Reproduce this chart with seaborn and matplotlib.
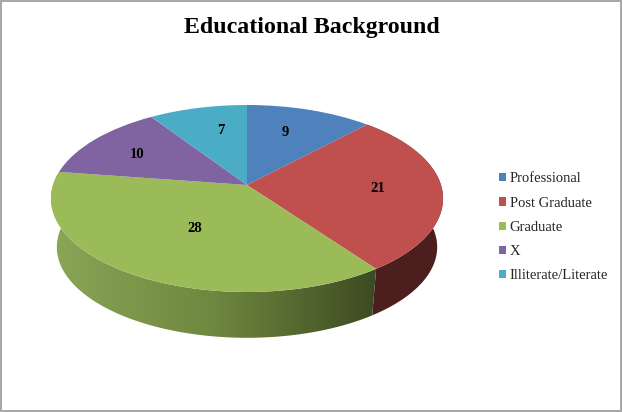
import matplotlib

matplotlib.use("Agg")
import matplotlib.pyplot as plt
import numpy as np
import seaborn as sns
from matplotlib.colors import LinearSegmentedColormap
from matplotlib.patches import Polygon, Rectangle
from matplotlib.transforms import Transform

categories = ["Professional", "Post Graduate", "Graduate", "X", "Illiterate/Literate"]
values = [9, 21, 28, 10, 7]
colors = ["#4F81BD", "#C0504D", "#9BBB59", "#8064A2", "#4BACC6"]

# how far out each number sits in its slice, and how far it is turned off centre
label_radius = [0.68, 0.67, 0.50, 0.70, 0.69]
label_turn = [3.2, 2, 1, 1, -4.6]

# pie tilt, all in pixels of the 623x412 picture
cx, cy = 247, 185
rx, ry, tilt = 194, 91.55, 0.1444
depth, shrink = 48, 0.97


def project(u, v, scale=1.0, drop=0):
    d = 1 + tilt * v
    return cx + scale * rx * u / d, cy + drop - scale * ry * v / d


class Tilted(Transform):
    input_dims = 2
    output_dims = 2

    def transform_non_affine(self, values):
        x, y = project(values[:, 0], values[:, 1])
        return np.column_stack([x, y])


sns.set_theme(style="white")
plt.rcParams["font.family"] = ["Liberation Serif", "DejaVu Serif"]

fig = plt.figure(figsize=(6.23, 4.12), dpi=100, facecolor="white")
ax = fig.add_axes([0, 0, 1, 1])

wedges, texts, autotexts = ax.pie(
    values,
    colors=sns.color_palette(colors),
    startangle=90,
    counterclock=False,
    autopct=lambda p: "%d" % round(p * sum(values) / 100),
    wedgeprops={"linewidth": 0},
)
ax.set_aspect("auto")

tilted = Tilted() + ax.transData
for w in wedges:
    w.set_transform(tilted)
    w.set_zorder(5)

for i, (w, t) in enumerate(zip(wedges, autotexts)):
    mid = np.radians((w.theta1 + w.theta2) / 2 + label_turn[i])
    t.set_position((label_radius[i] * np.cos(mid), label_radius[i] * np.sin(mid)))
    t.set_transform(tilted)
    t.set_fontsize(10.5)
    t.set_fontweight("bold")
    t.set_color("black")
    t.set_va("center_baseline")
    t.set_zorder(6)


def wall(w):
    th = np.radians(np.linspace(w.theta1, w.theta2, 120))
    u, v = np.cos(th), np.sin(th)
    x1, y1 = project(u, v)
    x2, y2 = project(u, v, shrink, depth + 1)
    return np.column_stack([np.r_[x1, x2[::-1]], np.r_[y1, y2[::-1]]])


# side of the pie: red is flat dark, green fades from left to right
ax.add_patch(Polygon(wall(wedges[1]), fc="#4C1F1E", ec="none", zorder=2))

green_side = LinearSegmentedColormap.from_list(
    "green_side", ["#8AA656", "#6F873F", "#3C4A22"]
)
grad = ax.imshow(
    np.linspace(0, 1, 256).reshape(1, -1),
    cmap=green_side,
    extent=(50, 378, 345, 170),
    aspect="auto",
    zorder=3,
)
grad.set_clip_path(Polygon(wall(wedges[2]), transform=ax.transData))

ax.set_xlim(0, 623)
ax.set_ylim(412, 0)
ax.axis("off")

ax.text(312, 27, "Educational Background", ha="center", va="center",
        fontsize=17.2, fontweight="bold", color="black")

leg = ax.legend(
    wedges,
    categories,
    loc="upper left",
    bbox_to_anchor=(499 / 623, 1 - 172.5 / 412),
    frameon=False,
    fontsize=10.5,
    labelspacing=0.77,
    handlelength=0.48,
    handleheight=0.48,
    handletextpad=0.26,
    borderpad=0,
    borderaxespad=0,
)

fig.add_artist(
    Rectangle((0.7 / 623, 1.3 / 412), 620.6 / 623, 409.6 / 412,
              transform=fig.transFigure, fc="none", ec="#A6A6A6", lw=1.4)
)

fig.savefig("out.png", dpi=100)
